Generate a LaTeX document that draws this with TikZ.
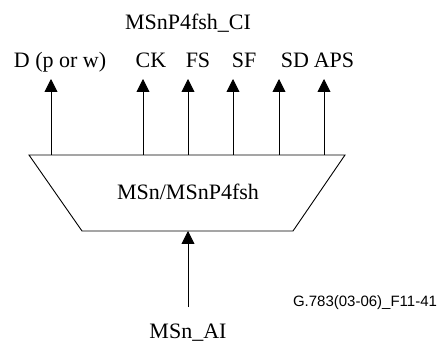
\documentclass[tikz,border=0pt]{standalone}
\usepackage{fontspec}
\setmainfont{Liberation Serif}
\setsansfont{Liberation Sans}
\usetikzlibrary{arrows.meta}
\begin{document}
\begin{tikzpicture}[x=1pt,y=-1pt,
  lbl/.style={font=\fontsize{22}{24}\selectfont, inner sep=0pt, anchor=base},
  sig/.style={draw, line width=0.9pt, -{Triangle[width=13pt,length=13pt]}},
  box/.style={draw, line width=0.9pt}]
\useasboundingbox (0,0) rectangle (444,347);
% trapezoid
\draw[box] (29,155) -- (345,155) -- (293,231) -- (82,231) -- cycle;
\node[lbl] (fn) at (188,200) {MSn/MSnP4fsh};
% top arrow anchors
\coordinate (b1) at (51,155);
\coordinate (b2) at (143,155);
\coordinate (b3) at (188,155);
\coordinate (b4) at (233,155);
\coordinate (b5) at (279,155);
\coordinate (b6) at (324,155);
\coordinate (t1) at (51,79);
\coordinate (t2) at (143,79);
\coordinate (t3) at (188,79);
\coordinate (t4) at (233,79);
\coordinate (t5) at (279,79);
\coordinate (t6) at (324,79);
\foreach \i in {1,...,6} {\draw[sig] (b\i) -- (t\i);}
% bottom arrow
\coordinate (ai) at (188,307);
\coordinate (bt) at (188,231);
\draw[sig] (ai) -- (bt);
% labels
\node[lbl] (ci) at (188,30) {MSnP4fsh\_CI};
\node[lbl] (l1) at (60,68) {D (p or w)};
\node[lbl] (l2) at (151,68) {CK};
\node[lbl] (l3) at (198,68) {FS};
\node[lbl] (l4) at (244,68) {SF};
\node[lbl] (l5) at (295,68) {SD};
\node[lbl] (l6) at (334,68) {APS};
\node[lbl] (aiL) at (188,338) {MSn\_AI};
\node[font=\sffamily\fontsize{15}{17}\selectfont, inner sep=0pt, anchor=base] (id) at (365,306) {G.783(03-06)\_F11-41};
\end{tikzpicture}
\end{document}
